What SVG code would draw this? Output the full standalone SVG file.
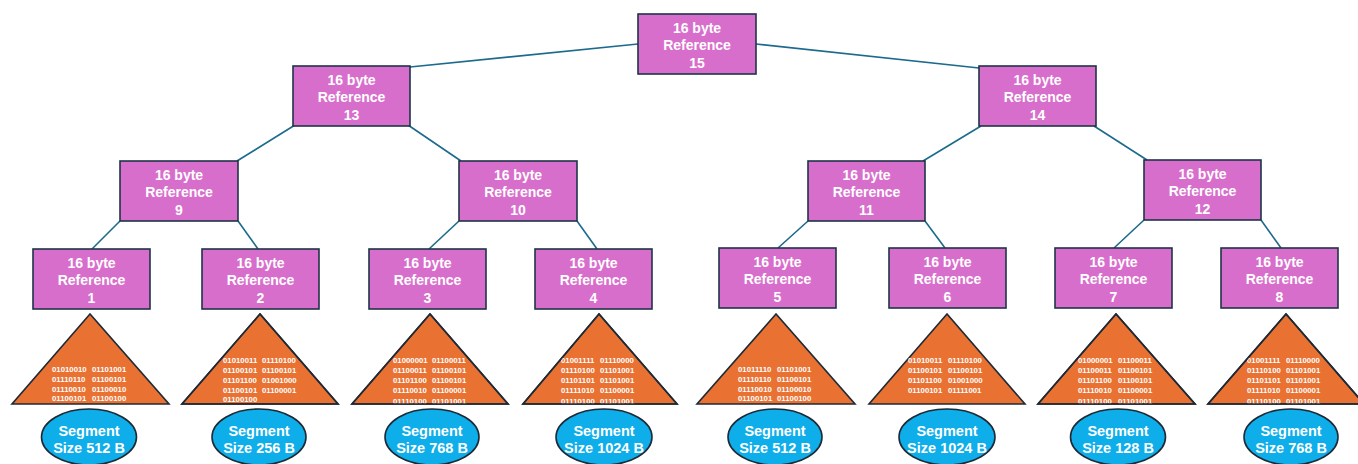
<svg xmlns="http://www.w3.org/2000/svg" width="1358" height="464" viewBox="0 0 1358 464">
<style>
.box{fill:#D86ECC;stroke:#1E3448;stroke-width:1.6}
.bt{font-family:"Liberation Sans",Arial,sans-serif;font-weight:bold;font-size:14px;fill:#fff;text-anchor:middle}
.tri{fill:#E97132;stroke:#1E2A36;stroke-width:1.6;stroke-linejoin:miter}
.tro{fill:none;stroke:#1E2A36;stroke-width:1.6}
.bin{font-family:"Liberation Sans",Arial,sans-serif;font-weight:bold;font-size:7.8px;fill:#fff}
.ell{fill:#0EAEEA;stroke:#1E2A36;stroke-width:1.6}
.et{font-family:"Liberation Sans",Arial,sans-serif;font-weight:bold;font-size:14.5px;fill:#fff;text-anchor:middle}
.con{stroke:#1C6A8C;stroke-width:1.6;fill:none}
</style>
<rect width="1358" height="464" fill="#fff"/>
<g id="connectors">
<line class="con" x1="638" y1="44" x2="410" y2="67"/>
<line class="con" x1="756" y1="44" x2="979" y2="68"/>
<line class="con" x1="295" y1="125" x2="237" y2="161"/>
<line class="con" x1="408" y1="125" x2="461" y2="161"/>
<line class="con" x1="981" y1="126" x2="923" y2="161"/>
<line class="con" x1="1094" y1="126" x2="1147" y2="160"/>
<line class="con" x1="120" y1="221" x2="92" y2="249"/>
<line class="con" x1="238" y1="221" x2="258" y2="249"/>
<line class="con" x1="459" y1="221" x2="429" y2="249"/>
<line class="con" x1="577" y1="221" x2="597" y2="249"/>
<line class="con" x1="808" y1="221" x2="778" y2="248"/>
<line class="con" x1="925" y1="221" x2="945" y2="248"/>
<line class="con" x1="1144" y1="220" x2="1114" y2="248"/>
<line class="con" x1="1261" y1="220" x2="1281" y2="248"/>
</g>
<g id="ref15"><rect class="box" x="638" y="14" width="118" height="60"/><text class="bt" x="697" y="33">16 byte</text><text class="bt" x="697" y="50">Reference</text><text class="bt" x="697" y="68">15</text></g>
<g id="ref13"><rect class="box" x="293" y="66" width="117" height="60"/><text class="bt" x="351.5" y="85">16 byte</text><text class="bt" x="351.5" y="102">Reference</text><text class="bt" x="351.5" y="120">13</text></g>
<g id="ref14"><rect class="box" x="979" y="66" width="117" height="60"/><text class="bt" x="1037.5" y="85">16 byte</text><text class="bt" x="1037.5" y="102">Reference</text><text class="bt" x="1037.5" y="120">14</text></g>
<g id="ref9"><rect class="box" x="120" y="161" width="118" height="60"/><text class="bt" x="179" y="180">16 byte</text><text class="bt" x="179" y="197">Reference</text><text class="bt" x="179" y="215">9</text></g>
<g id="ref10"><rect class="box" x="459" y="161" width="118" height="60"/><text class="bt" x="518" y="180">16 byte</text><text class="bt" x="518" y="197">Reference</text><text class="bt" x="518" y="215">10</text></g>
<g id="ref11"><rect class="box" x="808" y="161" width="117" height="60"/><text class="bt" x="866.5" y="180">16 byte</text><text class="bt" x="866.5" y="197">Reference</text><text class="bt" x="866.5" y="215">11</text></g>
<g id="ref12"><rect class="box" x="1144" y="160" width="117" height="60"/><text class="bt" x="1202.5" y="179">16 byte</text><text class="bt" x="1202.5" y="196">Reference</text><text class="bt" x="1202.5" y="214">12</text></g>
<g id="ref1"><rect class="box" x="33" y="249" width="117" height="60"/><text class="bt" x="91.5" y="268">16 byte</text><text class="bt" x="91.5" y="285">Reference</text><text class="bt" x="91.5" y="303">1</text></g>
<g id="ref2"><rect class="box" x="202" y="249" width="117" height="60"/><text class="bt" x="260.5" y="268">16 byte</text><text class="bt" x="260.5" y="285">Reference</text><text class="bt" x="260.5" y="303">2</text></g>
<g id="ref3"><rect class="box" x="369" y="249" width="117" height="60"/><text class="bt" x="427.5" y="268">16 byte</text><text class="bt" x="427.5" y="285">Reference</text><text class="bt" x="427.5" y="303">3</text></g>
<g id="ref4"><rect class="box" x="535" y="249" width="117" height="60"/><text class="bt" x="593.5" y="268">16 byte</text><text class="bt" x="593.5" y="285">Reference</text><text class="bt" x="593.5" y="303">4</text></g>
<g id="ref5"><rect class="box" x="719" y="248" width="117" height="60"/><text class="bt" x="777.5" y="267">16 byte</text><text class="bt" x="777.5" y="284">Reference</text><text class="bt" x="777.5" y="302">5</text></g>
<g id="ref6"><rect class="box" x="889" y="248" width="117" height="60"/><text class="bt" x="947.5" y="267">16 byte</text><text class="bt" x="947.5" y="284">Reference</text><text class="bt" x="947.5" y="302">6</text></g>
<g id="ref7"><rect class="box" x="1055" y="248" width="117" height="60"/><text class="bt" x="1113.5" y="267">16 byte</text><text class="bt" x="1113.5" y="284">Reference</text><text class="bt" x="1113.5" y="302">7</text></g>
<g id="ref8"><rect class="box" x="1221" y="248" width="117" height="60"/><text class="bt" x="1279.5" y="267">16 byte</text><text class="bt" x="1279.5" y="284">Reference</text><text class="bt" x="1279.5" y="302">8</text></g>

<g id="seg1">
<polygon class="tri" points="90,314 12,404 169,404"/>
<text class="bin" y="372"><tspan x="52">01010010</tspan><tspan x="92">01101001</tspan></text>
<text class="bin" y="382"><tspan x="52">01110110</tspan><tspan x="92">01100101</tspan></text>
<text class="bin" y="392"><tspan x="52">01110010</tspan><tspan x="92">01100010</tspan></text>
<text class="bin" y="401"><tspan x="52">01100101</tspan><tspan x="92">01100100</tspan></text>
<ellipse class="ell" cx="89" cy="437" rx="47.5" ry="28"/>
<text class="et" x="89" y="436">Segment</text><text class="et" x="89" y="453">Size 512 B</text>
</g>
<g id="seg2">
<polygon class="tri" points="260,314 182,404 338,404"/>
<text class="bin" y="363"><tspan x="223">01010011</tspan><tspan x="262">01110100</tspan></text>
<text class="bin" y="373"><tspan x="223">01100101</tspan><tspan x="262">01100101</tspan></text>
<text class="bin" y="383"><tspan x="223">01101100</tspan><tspan x="262">01001000</tspan></text>
<text class="bin" y="393"><tspan x="223">01100101</tspan><tspan x="262">01100001</tspan></text>
<text class="bin" y="402"><tspan x="223">01100100</tspan></text>
<polygon class="tro" points="260,314 182,404 338,404"/>
<ellipse class="ell" cx="259" cy="437" rx="47" ry="28"/>
<text class="et" x="259" y="436">Segment</text><text class="et" x="259" y="453">Size 256 B</text>
</g>
<g id="seg3">
<polygon class="tri" points="430,314 352,404 508,404"/>
<text class="bin" y="363"><tspan x="393">01000001</tspan><tspan x="432">01100011</tspan></text>
<text class="bin" y="373"><tspan x="393">01100011</tspan><tspan x="432">01100101</tspan></text>
<text class="bin" y="383"><tspan x="393">01101100</tspan><tspan x="432">01100101</tspan></text>
<text class="bin" y="393"><tspan x="393">01110010</tspan><tspan x="432">01100001</tspan></text>
<text class="bin" y="404"><tspan x="393">01110100</tspan><tspan x="432">01101001</tspan></text>
<rect x="350" y="405" width="162" height="4" fill="#fff"/>
<polygon class="tro" points="430,314 352,404 508,404"/>
<ellipse class="ell" cx="432" cy="437" rx="47" ry="28"/>
<text class="et" x="432" y="436">Segment</text><text class="et" x="432" y="453">Size 768 B</text>
</g>
<g id="seg4">
<polygon class="tri" points="599,314 523,404 677,404"/>
<text class="bin" y="363"><tspan x="561">01001111</tspan><tspan x="600">01110000</tspan></text>
<text class="bin" y="373"><tspan x="561">01110100</tspan><tspan x="600">01101001</tspan></text>
<text class="bin" y="383"><tspan x="561">01101101</tspan><tspan x="600">01101001</tspan></text>
<text class="bin" y="393"><tspan x="561">01111010</tspan><tspan x="600">01100001</tspan></text>
<text class="bin" y="404"><tspan x="561">01110100</tspan><tspan x="600">01101001</tspan></text>
<rect x="520" y="405" width="162" height="4" fill="#fff"/>
<polygon class="tro" points="599,314 523,404 677,404"/>
<ellipse class="ell" cx="604" cy="437" rx="48" ry="28"/>
<text class="et" x="604" y="436">Segment</text><text class="et" x="604" y="453">Size 1024 B</text>
</g>
<g id="seg5">
<polygon class="tri" points="776,314 697,404 855,404"/>
<text class="bin" y="372"><tspan x="738">01011110</tspan><tspan x="777">01101001</tspan></text>
<text class="bin" y="382"><tspan x="738">01110110</tspan><tspan x="777">01100101</tspan></text>
<text class="bin" y="392"><tspan x="738">01110010</tspan><tspan x="777">01100010</tspan></text>
<text class="bin" y="401"><tspan x="738">01100101</tspan><tspan x="777">01100100</tspan></text>
<ellipse class="ell" cx="775" cy="437" rx="47" ry="28"/>
<text class="et" x="775" y="436">Segment</text><text class="et" x="775" y="453">Size 512 B</text>
</g>
<g id="seg6">
<polygon class="tri" points="947,314 869,404 1025,404"/>
<text class="bin" y="363"><tspan x="908">01010011</tspan><tspan x="948">01110100</tspan></text>
<text class="bin" y="373"><tspan x="908">01100101</tspan><tspan x="948">01100101</tspan></text>
<text class="bin" y="383"><tspan x="908">01101100</tspan><tspan x="948">01001000</tspan></text>
<text class="bin" y="393"><tspan x="908">01100101</tspan><tspan x="948">01111001</tspan></text>
<ellipse class="ell" cx="947" cy="437" rx="48" ry="28"/>
<text class="et" x="947" y="436">Segment</text><text class="et" x="947" y="453">Size 1024 B</text>
</g>
<g id="seg7">
<polygon class="tri" points="1116,314 1038,404 1195,404"/>
<text class="bin" y="363"><tspan x="1078">01000001</tspan><tspan x="1118">01100011</tspan></text>
<text class="bin" y="373"><tspan x="1078">01100011</tspan><tspan x="1118">01100101</tspan></text>
<text class="bin" y="383"><tspan x="1078">01101100</tspan><tspan x="1118">01100101</tspan></text>
<text class="bin" y="393"><tspan x="1078">01110010</tspan><tspan x="1118">01100001</tspan></text>
<text class="bin" y="404"><tspan x="1078">01110100</tspan><tspan x="1118">01101001</tspan></text>
<rect x="1035" y="405" width="164" height="4" fill="#fff"/>
<polygon class="tro" points="1116,314 1038,404 1195,404"/>
<ellipse class="ell" cx="1118" cy="437" rx="47.5" ry="28"/>
<text class="et" x="1118" y="436">Segment</text><text class="et" x="1118" y="453">Size 128 B</text>
</g>
<g id="seg8">
<polygon class="tri" points="1286,314 1208,404 1364,404"/>
<text class="bin" y="363"><tspan x="1247">01001111</tspan><tspan x="1286">01110000</tspan></text>
<text class="bin" y="373"><tspan x="1247">01110100</tspan><tspan x="1286">01101001</tspan></text>
<text class="bin" y="383"><tspan x="1247">01101101</tspan><tspan x="1286">01101001</tspan></text>
<text class="bin" y="393"><tspan x="1247">01111010</tspan><tspan x="1286">01100001</tspan></text>
<text class="bin" y="404"><tspan x="1247">01110100</tspan><tspan x="1286">01101001</tspan></text>
<rect x="1205" y="405" width="160" height="4" fill="#fff"/>
<polygon class="tro" points="1286,314 1208,404 1364,404"/>
<ellipse class="ell" cx="1291" cy="437" rx="47" ry="28"/>
<text class="et" x="1291" y="436">Segment</text><text class="et" x="1291" y="453">Size 768 B</text>
</g>
</svg>
